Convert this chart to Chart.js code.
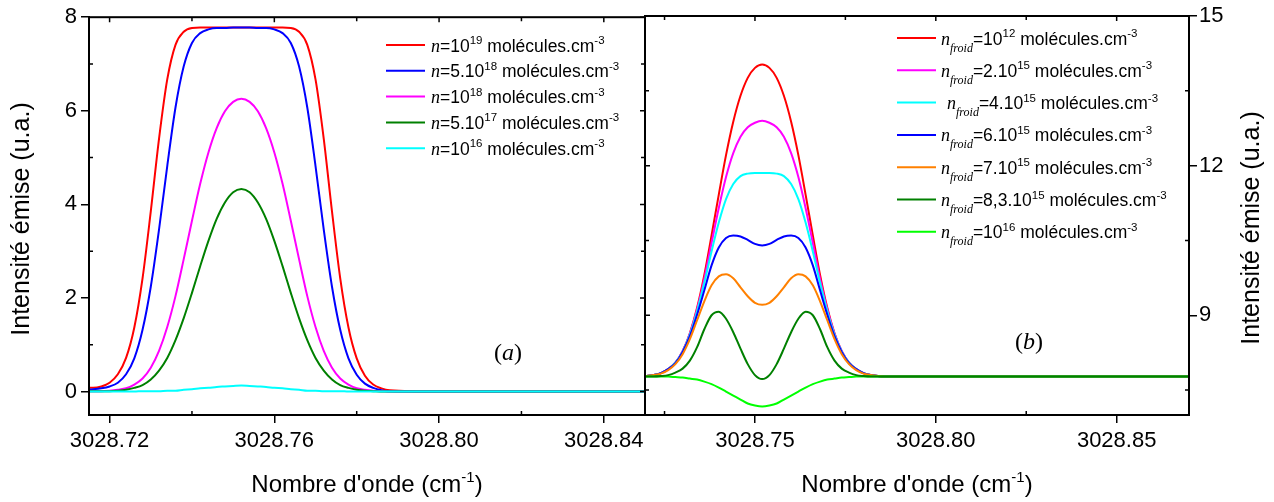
<!DOCTYPE html>
<html lang="fr">
<head>
<meta charset="UTF-8">
<title>Intensité émise</title>
<script src="https://cdn.jsdelivr.net/npm/chart.js@4.4.0/dist/chart.umd.min.js"></script>
<style>
  html, body { margin: 0; padding: 0; background: #fff; }
  body { width: 1274px; height: 502px; position: relative; overflow: hidden; }
  .panel { position: absolute; top: 0; height: 502px; }
  #panelA { left: 0; width: 660px; }
  #panelB { left: 630px; width: 644px; }
</style>
</head>
<body>
<div class="panel" id="panelA"><canvas id="chartA"></canvas></div>
<div class="panel" id="panelB"><canvas id="chartB"></canvas></div>
<script>
const SANS = '"Liberation Sans", Arial, sans-serif';
const SERIF = '"Liberation Serif", "Times New Roman", serif';

// ---- panel (a) ----
const xA = [3028.714, 3028.716, 3028.718, 3028.720, 3028.722, 3028.724, 3028.726, 3028.728, 3028.730, 3028.732,
  3028.734, 3028.736, 3028.738, 3028.740, 3028.742, 3028.744, 3028.746, 3028.748, 3028.750, 3028.752,
  3028.754, 3028.756, 3028.758, 3028.760, 3028.762, 3028.764, 3028.766, 3028.768, 3028.770, 3028.772,
  3028.774, 3028.776, 3028.778, 3028.780, 3028.782, 3028.784, 3028.786, 3028.788, 3028.800, 3028.820, 3028.850];
const redA = [0.08, 0.08, 0.11, 0.19, 0.37, 0.72, 1.37, 2.42, 3.85, 5.40, 6.67, 7.41, 7.69, 7.77,
  7.78, 7.78, 7.78, 7.78, 7.78, 7.78, 7.78, 7.78, 7.78, 7.78, 7.78,
  7.77, 7.69, 7.41, 6.67, 5.40, 3.85, 2.42, 1.37, 0.71, 0.34, 0.15, 0.07, 0.03, 0, 0, 0];
const blueA = [0.04, 0.05, 0.07, 0.11, 0.19, 0.37, 0.71, 1.32, 2.24, 3.46, 4.82, 6.07, 6.95, 7.45, 7.66, 7.74, 7.77, 7.77, 7.78,
  7.78,
  7.78, 7.77, 7.77, 7.74, 7.66, 7.45, 6.95, 6.07, 4.82, 3.46, 2.24, 1.32, 0.71, 0.36, 0.17, 0.08, 0.03, 0.01, 0, 0, 0];
const magentaA = [0.01, 0.01, 0.01, 0.02, 0.04, 0.07, 0.15, 0.28, 0.51, 0.87, 1.38, 2.04, 2.83, 3.65, 4.44, 5.11, 5.63, 5.99, 6.19,
  6.26,
  6.19, 5.99, 5.63, 5.11, 4.44, 3.65, 2.83, 2.04, 1.38, 0.87, 0.51, 0.28, 0.15, 0.07, 0.04, 0.02, 0.01, 0, 0, 0, 0];
const greenA = [0.01, 0.01, 0.01, 0.01, 0.02, 0.04, 0.08, 0.14, 0.26, 0.45, 0.72, 1.10, 1.57, 2.11, 2.68, 3.22, 3.69, 4.04, 4.26,
  4.33,
  4.26, 4.04, 3.69, 3.22, 2.68, 2.11, 1.57, 1.10, 0.72, 0.45, 0.26, 0.14, 0.08, 0.04, 0.02, 0.01, 0, 0, 0, 0, 0];
const cyanA = [0, 0, 0, 0, 0, 0, 0, 0.01, 0.01, 0.01, 0.02, 0.02, 0.04, 0.05, 0.07, 0.08, 0.10, 0.11, 0.12,
  0.13,
  0.12, 0.11, 0.10, 0.08, 0.07, 0.05, 0.04, 0.02, 0.02, 0.01, 0.01, 0.01, 0, 0, 0, 0, 0, 0, 0, 0, 0];
const xTicksA = [3028.72, 3028.76, 3028.80, 3028.84];
const xMinorA = [3028.74, 3028.78, 3028.82];
const yTicksA = [0, 2, 4, 6, 8];
const yMinorA = [1, 3, 5, 7];
const mantA = ['', '5.', '', '5.', ''];
const expA = ['19', '18', '18', '17', '16'];
const colorsA = ['#ff0000', '#0000ff', '#ff00ff', '#008000', '#00ffff'];

// ---- panel (b) ----
const xB = [3028.718, 3028.720, 3028.722, 3028.724, 3028.726, 3028.728, 3028.730, 3028.732, 3028.734, 3028.736,
  3028.738, 3028.740, 3028.742, 3028.744, 3028.746, 3028.748, 3028.750, 3028.752, 3028.754, 3028.756,
  3028.758, 3028.760, 3028.762, 3028.764, 3028.766, 3028.768, 3028.770, 3028.772, 3028.774, 3028.776,
  3028.778, 3028.780, 3028.782, 3028.784, 3028.786, 3028.800, 3028.830, 3028.870];
const redB = [7.77, 7.78, 7.80, 7.84, 7.92, 8.05, 8.28, 8.64, 9.15, 9.81, 10.60, 11.42, 12.21, 12.88, 13.40, 13.76, 13.96,
  14.03,
  13.96, 13.76, 13.40, 12.88, 12.21, 11.42, 10.60, 9.81, 9.15, 8.64, 8.28, 8.05, 7.92, 7.84, 7.80, 7.78, 7.77, 7.77, 7.77, 7.77];
const magentaB = [7.77, 7.78, 7.80, 7.84, 7.92, 8.05, 8.28, 8.63, 9.12, 9.73, 10.45, 11.15, 11.77, 12.25, 12.58, 12.77, 12.86,
  12.90,
  12.86, 12.77, 12.58, 12.25, 11.77, 11.15, 10.45, 9.73, 9.12, 8.63, 8.28, 8.05, 7.92, 7.84, 7.80, 7.78, 7.77, 7.77, 7.77, 7.77];
const cyanB = [7.77, 7.78, 7.80, 7.84, 7.92, 8.05, 8.27, 8.61, 9.08, 9.65, 10.28, 10.86, 11.33, 11.63, 11.79, 11.84, 11.85,
  11.85,
  11.85, 11.84, 11.79, 11.63, 11.33, 10.86, 10.28, 9.65, 9.08, 8.61, 8.27, 8.05, 7.92, 7.84, 7.80, 7.78, 7.77, 7.77, 7.77, 7.77];
const blueB = [7.77, 7.78, 7.80, 7.84, 7.92, 8.04, 8.26, 8.58, 9.01, 9.50, 10.00, 10.36, 10.55, 10.60, 10.58, 10.51, 10.43,
  10.40,
  10.43, 10.51, 10.58, 10.60, 10.55, 10.36, 10.00, 9.50, 9.01, 8.58, 8.26, 8.04, 7.92, 7.84, 7.80, 7.78, 7.77, 7.77, 7.77, 7.77];
const orangeB = [7.77, 7.78, 7.80, 7.83, 7.90, 8.02, 8.22, 8.52, 8.90, 9.28, 9.60, 9.78, 9.82, 9.74, 9.56, 9.38, 9.25,
  9.21,
  9.25, 9.38, 9.56, 9.74, 9.82, 9.78, 9.60, 9.28, 8.90, 8.52, 8.22, 8.02, 7.90, 7.83, 7.80, 7.78, 7.77, 7.77, 7.77, 7.77];
const darkGreenB = [7.77, 7.77, 7.77, 7.78, 7.80, 7.85, 7.93, 8.09, 8.36, 8.72, 9.00, 9.07, 8.93, 8.66, 8.33, 8.02, 7.80,
  7.72,
  7.80, 8.02, 8.33, 8.66, 8.93, 9.07, 9.00, 8.72, 8.36, 8.09, 7.93, 7.85, 7.80, 7.78, 7.77, 7.77, 7.77, 7.77, 7.77, 7.77];
const lightGreenB = [7.77, 7.77, 7.77, 7.77, 7.77, 7.76, 7.75, 7.73, 7.71, 7.67, 7.62, 7.55, 7.47, 7.39, 7.31, 7.23, 7.19,
  7.17,
  7.19, 7.23, 7.31, 7.39, 7.47, 7.55, 7.62, 7.67, 7.71, 7.73, 7.75, 7.76, 7.77, 7.77, 7.77, 7.77, 7.77, 7.77, 7.77, 7.77];
const xTicksB = [3028.75, 3028.80, 3028.85];
const xMinorB = [3028.725, 3028.775, 3028.825];
const yTicksB = [9, 12, 15];
const yMinorB = [7.5, 10.5, 13.5];
const mantB = ['', '2.', '4.', '6.', '7.', '8,3.', ''];
const expB = ['12', '15', '15', '15', '15', '15', '16'];
const colorsB = ['#ff0000', '#ff00ff', '#00ffff', '#0000ff', '#ff8000', '#008000', '#00ff00'];

function series(xs, ys, color, label, order) {
  return {
    label,
    data: xs.map((x, i) => ({ x, y: ys[i] })),
    borderColor: color,
    backgroundColor: color,
    borderWidth: 2,
    pointRadius: 0,
    cubicInterpolationMode: 'monotone',
    fill: false,
    order
  };
}

function drawParts(ctx, x, y, parts) {
  parts.forEach(p => {
    ctx.font = p.f;
    ctx.fillText(p.t, x, y + (p.dy || 0));
    x += ctx.measureText(p.t).width;
  });
  return x;
}

// frame, minor ticks, titles, legend and panel tag
function decor(cfg) {
  return {
    id: 'decor',
    afterDraw(chart) {
      const { ctx, chartArea: a } = chart;
      const sx = chart.scales.x, sy = chart.scales.y;
      ctx.save();
      ctx.strokeStyle = '#000';
      ctx.lineWidth = 2;
      ctx.strokeRect(a.left, a.top, a.right - a.left, a.bottom - a.top);

      ctx.lineWidth = 1.5;
      ctx.beginPath();
      cfg.xMinor.forEach(v => {
        const p = sx.getPixelForValue(v);
        ctx.moveTo(p, a.bottom); ctx.lineTo(p, a.bottom - 4);
        ctx.moveTo(p, a.top); ctx.lineTo(p, a.top + 4);
      });
      cfg.xMajor.forEach(v => {
        const p = sx.getPixelForValue(v);
        ctx.moveTo(p, a.top); ctx.lineTo(p, a.top + 5);
      });
      const main = cfg.yRight ? a.right : a.left;
      const mirror = cfg.yRight ? a.left : a.right;
      const dir = cfg.yRight ? -1 : 1;
      cfg.yMinor.forEach(v => {
        const p = sy.getPixelForValue(v);
        ctx.moveTo(main, p); ctx.lineTo(main + dir * 4, p);
        ctx.moveTo(mirror, p); ctx.lineTo(mirror - dir * 4, p);
      });
      cfg.yMajor.forEach(v => {
        const p = sy.getPixelForValue(v);
        ctx.moveTo(mirror, p); ctx.lineTo(mirror - dir * 5, p);
      });
      ctx.stroke();

      ctx.fillStyle = '#000';
      ctx.textAlign = 'left';
      ctx.textBaseline = 'alphabetic';

      // x title
      const xt = [
        { t: "Nombre d'onde (cm", f: '24px ' + SANS },
        { t: '-1', f: '15px ' + SANS, dy: -10 },
        { t: ')', f: '24px ' + SANS }
      ];
      let w = 0;
      xt.forEach(p => { ctx.font = p.f; w += ctx.measureText(p.t).width; });
      drawParts(ctx, (a.left + a.right) / 2 - w / 2, 492, xt);

      // y title
      ctx.save();
      ctx.translate(cfg.yTitleX, cfg.yTitleY);
      ctx.rotate(-Math.PI / 2);
      ctx.font = '25px ' + SANS;
      ctx.textAlign = 'center';
      ctx.textBaseline = 'middle';
      ctx.fillText('Intensité émise (u.a.)', 0, 0);
      ctx.restore();

      // legend
      cfg.colors.forEach((c, i) => {
        const y = cfg.legY0 + i * cfg.legDy;
        ctx.strokeStyle = c;
        ctx.lineWidth = 2;
        ctx.beginPath();
        ctx.moveTo(cfg.legX0, y);
        ctx.lineTo(cfg.legX1, y);
        ctx.stroke();
        const parts = [{ t: 'n', f: 'italic 18px ' + SERIF }];
        if (cfg.sub) parts.push({ t: cfg.sub, f: 'italic 12px ' + SERIF, dy: 7 });
        parts.push(
          { t: '=' + cfg.mant[i] + '10', f: '17.5px ' + SANS },
          { t: cfg.exp[i], f: '11.5px ' + SANS, dy: -7.5 },
          { t: ' molécules.cm', f: '17.5px ' + SANS },
          { t: '-3', f: '11.5px ' + SANS, dy: -7.5 }
        );
        drawParts(ctx, cfg.legTx + (cfg.indent[i] || 0), y + 6.5, parts);
      });

      // panel tag
      const tag = [
        { t: '(', f: '24px ' + SERIF },
        { t: cfg.tag, f: 'italic 24px ' + SERIF },
        { t: ')', f: '24px ' + SERIF }
      ];
      let tw = 0;
      tag.forEach(p => { ctx.font = p.f; tw += ctx.measureText(p.t).width; });
      drawParts(ctx, cfg.tagX - tw / 2, cfg.tagY + 8, tag);

      ctx.restore();
    }
  };
}

function axisX(min, max, majors, height) {
  return {
    type: 'linear', min, max,
    afterBuildTicks: ax => { ax.ticks = majors.map(v => ({ value: v })); },
    afterFit: ax => { ax.height = height; },
    border: { display: true, color: '#000', width: 2 },
    grid: { drawOnChartArea: false, drawTicks: true, tickLength: 8, color: '#000', lineWidth: 1.5 },
    ticks: {
      font: { family: SANS, size: 22 }, color: '#000', padding: 5,
      maxRotation: 0, autoSkip: false,
      callback: v => Number(v).toFixed(2)
    }
  };
}

function axisY(min, max, majors, width, position, pad) {
  return {
    type: 'linear', min, max, position,
    afterBuildTicks: ax => { ax.ticks = majors.map(v => ({ value: v })); },
    afterFit: ax => { ax.width = width; },
    border: { display: true, color: '#000', width: 2 },
    grid: { drawOnChartArea: false, drawTicks: true, tickLength: 8, color: '#000', lineWidth: 1.5 },
    ticks: {
      font: { family: SANS, size: 22 }, color: '#000', padding: pad,
      autoSkip: false,
      callback: v => String(v)
    }
  };
}

const baseOpts = {
  responsive: true,
  maintainAspectRatio: false,
  animation: false,
  events: [],
  plugins: { legend: { display: false }, tooltip: { enabled: false } }
};

new Chart(document.getElementById('chartA'), {
  type: 'line',
  data: {
    datasets: [
      series(xA, redA, colorsA[0], 'n=10^19 molécules.cm^-3', 4),
      series(xA, blueA, colorsA[1], 'n=5.10^18 molécules.cm^-3', 3),
      series(xA, magentaA, colorsA[2], 'n=10^18 molécules.cm^-3', 2),
      series(xA, greenA, colorsA[3], 'n=5.10^17 molécules.cm^-3', 1),
      series(xA, cyanA, colorsA[4], 'n=10^16 molécules.cm^-3', 0)
    ]
  },
  options: Object.assign({}, baseOpts, {
    layout: { padding: { left: 0, top: 16, right: 15, bottom: 0 } },
    scales: {
      x: axisX(3028.715, 3028.85, xTicksA, 87),
      y: axisY(-0.5, 8, yTicksA, 89, 'left', 4)
    }
  }),
  plugins: [decor({
    xMajor: xTicksA, xMinor: xMinorA, yMajor: yTicksA, yMinor: yMinorA, yRight: false,
    yTitleX: 22, yTitleY: 219,
    colors: colorsA, mant: mantA, exp: expA, sub: null, indent: [],
    legX0: 386, legX1: 425, legTx: 431, legY0: 45, legDy: 25.8,
    tag: 'a', tagX: 508, tagY: 352
  })]
});

new Chart(document.getElementById('chartB'), {
  type: 'line',
  data: {
    datasets: [
      series(xB, redB, colorsB[0], 'n_froid=10^12 molécules.cm^-3', 6),
      series(xB, magentaB, colorsB[1], 'n_froid=2.10^15 molécules.cm^-3', 5),
      series(xB, cyanB, colorsB[2], 'n_froid=4.10^15 molécules.cm^-3', 4),
      series(xB, blueB, colorsB[3], 'n_froid=6.10^15 molécules.cm^-3', 3),
      series(xB, orangeB, colorsB[4], 'n_froid=7.10^15 molécules.cm^-3', 2),
      series(xB, darkGreenB, colorsB[5], 'n_froid=8,3.10^15 molécules.cm^-3', 0),
      series(xB, lightGreenB, colorsB[6], 'n_froid=10^16 molécules.cm^-3', 1)
    ]
  },
  options: Object.assign({}, baseOpts, {
    layout: { padding: { left: 15, top: 16, right: 0, bottom: 0 } },
    scales: {
      x: axisX(3028.7196, 3028.87, xTicksB, 87),
      y: axisY(7, 15, yTicksB, 85, 'right', 2)
    }
  }),
  plugins: [decor({
    xMajor: xTicksB, xMinor: xMinorB, yMajor: yTicksB, yMinor: yMinorB, yRight: true,
    yTitleX: 622, yTitleY: 228,
    colors: colorsB, mant: mantB, exp: expB, sub: 'froid', indent: [0, 0, 6],
    legX0: 267, legX1: 306, legTx: 311, legY0: 38, legDy: 32.3,
    tag: 'b', tagX: 399, tagY: 341
  })]
});
</script>
</body>
</html>
